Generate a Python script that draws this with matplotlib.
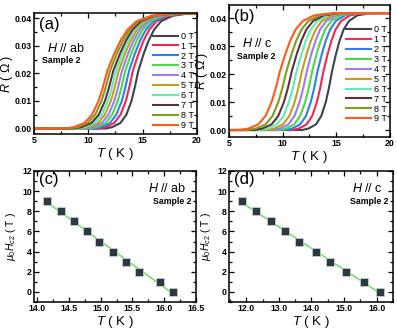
import numpy as np
import matplotlib
matplotlib.use("Agg")
import matplotlib.pyplot as plt
from matplotlib.ticker import MultipleLocator, FormatStrFormatter

plt.rcParams['font.family'] = ['Liberation Sans', 'DejaVu Sans']
plt.rcParams['mathtext.fontset'] = 'custom'
plt.rcParams['mathtext.rm'] = 'Liberation Sans'
plt.rcParams['mathtext.it'] = 'Liberation Sans:italic'
plt.rcParams['mathtext.bf'] = 'Liberation Sans:bold'

fields = ["0 T", "1 T", "2 T", "3 T", "4 T", "5 T", "6 T", "7 T", "8 T", "9 T"]
colors = ["#3b444c", "#f0284e", "#2f7ff0", "#48d848", "#9a7cf4",
          "#c89b1c", "#5cf0b0", "#5a3248", "#7f9c1c", "#ff5a1e"]

# resistance levels (Ohm) and the temperatures (K) where each curve crosses them
R_levels = [0.0, 0.0005, 0.002, 0.005, 0.010, 0.015, 0.021,
            0.027, 0.032, 0.036, 0.039, 0.041, 0.0418]

T_ab = [
    [11.6, 12.2, 12.95, 13.5, 13.97, 14.28, 14.6, 15.08, 15.55, 16.06, 16.7, 17.76, 19.2],
    [10.98, 11.6, 12.38, 12.96, 13.45, 13.77, 14.1, 14.6, 15.09, 15.62, 16.28, 17.39, 18.88],
    [10.54, 11.18, 11.98, 12.57, 13.08, 13.41, 13.75, 14.26, 14.77, 15.31, 16.0, 17.13, 18.67],
    [10.1, 10.76, 11.59, 12.19, 12.71, 13.05, 13.4, 13.93, 14.45, 15.01, 15.71, 16.88, 18.46],
    [9.71, 10.39, 11.24, 11.86, 12.39, 12.74, 13.1, 13.64, 14.17, 14.75, 15.47, 16.67, 18.3],
    [9.32, 10.02, 10.89, 11.52, 12.07, 12.43, 12.8, 13.36, 13.9, 14.49, 15.24, 16.47, 18.14],
    [8.98, 9.69, 10.59, 11.24, 11.8, 12.17, 12.55, 13.12, 13.68, 14.29, 15.05, 16.31, 18.02],
    [8.64, 9.37, 10.29, 10.96, 11.53, 11.91, 12.3, 12.89, 13.46, 14.08, 14.86, 16.16, 17.91],
    [8.25, 9.0, 9.94, 10.63, 11.21, 11.6, 12.0, 12.6, 13.19, 13.83, 14.63, 15.95, 17.75],
    [7.91, 8.68, 9.64, 10.34, 10.94, 11.34, 11.75, 12.36, 12.97, 13.62, 14.44, 15.8, 17.64],
]

T_c = [
    [11.8, 12.4, 13.1, 13.6, 14.02, 14.31, 14.6, 14.96, 15.31, 15.69, 16.18, 16.97, 18.2],
    [10.86, 11.49, 12.23, 12.75, 13.19, 13.5, 13.8, 14.18, 14.55, 14.94, 15.46, 16.29, 17.58],
    [10.23, 10.87, 11.63, 12.17, 12.62, 12.94, 13.25, 13.64, 14.02, 14.43, 14.96, 15.81, 17.14],
    [9.61, 10.29, 11.07, 11.63, 12.1, 12.43, 12.75, 13.15, 13.55, 13.97, 14.52, 15.4, 16.78],
    [9.03, 9.72, 10.53, 11.1, 11.58, 11.92, 12.25, 12.66, 13.07, 13.5, 14.07, 14.98, 16.39],
    [8.5, 9.2, 10.03, 10.62, 11.12, 11.46, 11.8, 12.22, 12.64, 13.09, 13.66, 14.6, 16.05],
    [7.88, 8.62, 9.47, 10.08, 10.59, 10.95, 11.3, 11.74, 12.17, 12.63, 13.23, 14.19, 15.69],
    [7.32, 8.08, 8.96, 9.59, 10.12, 10.49, 10.85, 11.3, 11.75, 12.22, 12.84, 13.84, 15.39],
    [6.71, 7.49, 8.4, 9.05, 9.6, 9.97, 10.35, 10.82, 11.27, 11.77, 12.4, 13.43, 15.03],
    [5.97, 6.78, 7.73, 8.4, 8.97, 9.36, 9.75, 10.24, 10.71, 11.22, 11.88, 12.95, 14.61],
]

# upper critical field vs temperature
Hc2 = [9, 8, 7, 6, 5, 4, 3, 2, 1, 0]
Tc_ab = [14.16, 14.38, 14.58, 14.78, 14.98, 15.19, 15.40, 15.61, 15.93, 16.14]
Tc_c = [11.87, 12.29, 12.75, 13.19, 13.62, 14.14, 14.57, 15.07, 15.60, 16.11]

fig = plt.figure(figsize=(3.97, 3.33), dpi=100)
ax_a = fig.add_axes([0.0856, 0.5976, 0.4106, 0.3634])
ax_b = fig.add_axes([0.5768, 0.5886, 0.4055, 0.3964])
ax_c = fig.add_axes([0.0856, 0.0931, 0.408, 0.3934])
ax_d = fig.add_axes([0.5768, 0.0931, 0.413, 0.3934])


def style(ax):
    ax.tick_params(which='both', direction='in', top=True, right=True, width=0.9)
    ax.tick_params(which='major', length=3.5, pad=1.5)
    ax.tick_params(which='minor', length=2)
    for lab in ax.get_xticklabels() + ax.get_yticklabels():
        lab.set_fontsize(6.3)
        lab.set_fontweight('bold')
    for sp in ax.spines.values():
        sp.set_linewidth(1.1)


def rt_panel(ax, T_list, ylim, tag, direction):
    for i in range(len(fields)):
        xs = [5.0] + T_list[i] + [20.0]
        ys = [0.0] + R_levels + [R_levels[-1]]
        ax.plot(xs, ys, color=colors[i], lw=1.5, label=fields[i])
    ax.set_xlim(5, 20)
    ax.set_ylim(*ylim)
    ax.xaxis.set_major_locator(MultipleLocator(5))
    ax.xaxis.set_minor_locator(MultipleLocator(2.5))
    ax.yaxis.set_major_locator(MultipleLocator(0.01))
    ax.yaxis.set_minor_locator(MultipleLocator(0.005))
    ax.yaxis.set_major_formatter(FormatStrFormatter('%.2f'))
    ax.set_xlabel(r'$T$ ( K )', fontsize=9.5, labelpad=1)
    ax.set_ylabel(r'$R$ ( Ω )', fontsize=9, labelpad=0)
    ax.text(0.03, 0.97, tag, transform=ax.transAxes, fontsize=12, va='top', ha='left')
    ax.text(0.08, 0.71, r'$H$ $//$ ' + direction, transform=ax.transAxes, fontsize=9,
            va='center', ha='left')
    ax.text(0.05, 0.61, 'Sample 2', transform=ax.transAxes, fontsize=6.3,
            fontweight='bold', va='center', ha='left')
    ax.legend(loc='upper right', bbox_to_anchor=(0.99, 0.86), frameon=False,
              fontsize=6.5, handlelength=2.7, handletextpad=0.3, labelspacing=0.1,
              borderaxespad=0.1, borderpad=0.1)
    style(ax)


def hc2_panel(ax, Tc, xlim, major, minor, tag, direction):
    k, b = np.polyfit(Tc, Hc2, 1)
    xl = np.array([min(Tc), max(Tc)])
    ax.plot(xl, k * xl + b, color='#5ee05a', lw=1.0, zorder=2)
    ax.plot(Tc, Hc2, 's', ms=6, color='#2d3942', mec='#c8cccc', mew=0.6, zorder=3)
    ax.set_xlim(*xlim)
    ax.set_ylim(-1, 12)
    ax.xaxis.set_major_locator(MultipleLocator(major))
    ax.xaxis.set_minor_locator(MultipleLocator(minor))
    ax.xaxis.set_major_formatter(FormatStrFormatter('%.1f'))
    ax.yaxis.set_major_locator(MultipleLocator(2))
    ax.yaxis.set_minor_locator(MultipleLocator(1))
    ax.set_xlabel(r'$T$ ( K )', fontsize=9.5, labelpad=1)
    ax.set_ylabel(r'$\mu_0H_{c2}$ ( T )', fontsize=7.5, labelpad=3)
    ax.text(0.03, 0.99, tag, transform=ax.transAxes, fontsize=12, va='top', ha='left')
    ax.text(0.94, 0.87, r'$H$ $//$ ' + direction, transform=ax.transAxes, fontsize=9,
            va='center', ha='right')
    ax.text(0.97, 0.77, 'Sample 2', transform=ax.transAxes, fontsize=6.3,
            fontweight='bold', va='center', ha='right')
    style(ax)


rt_panel(ax_a, T_ab, (-0.002, 0.042), '(a)', 'ab')
rt_panel(ax_b, T_c, (-0.0025, 0.0447), '(b)', 'c')
hc2_panel(ax_c, Tc_ab, (13.95, 16.5), 0.5, 0.25, '(c)', 'ab')
hc2_panel(ax_d, Tc_c, (11.47, 16.5), 1.0, 0.5, '(d)', 'c')

fig.savefig('out.png', dpi=100)
